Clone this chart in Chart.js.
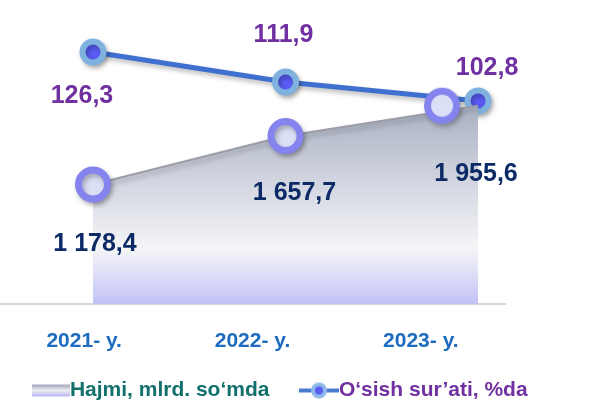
<!DOCTYPE html>
<html>
<head>
<meta charset="utf-8">
<script src="https://cdn.jsdelivr.net/npm/chart.js@4.4.0/dist/chart.umd.min.js"></script>
<style>
html,body{margin:0;padding:0;background:#fff}
#wrap{width:593px;height:411px}
</style>
</head>
<body>
<div id="wrap"><canvas id="myChart"></canvas></div>
<script>

var years = ["2021- y.", "2022- y.", "2023- y."];
var hajmi = [1178.4, 1657.7, 1955.6];	// mlrd. so'm
var osish = [126.3, 111.9, 102.8];		// %
var seriesNames = ["Hajmi, mlrd. so‘mda", "O‘sish sur’ati, %da"];

var FONT = "'Liberation Sans', Arial, sans-serif";

// 1178.4 -> "1 178,4"
function fmt(v){
	var s = v.toFixed(1).split(".");
	return s[0].replace(/\B(?=(\d{3})+(?!\d))/g, " ") + "," + s[1];
}

function mk(w, h, draw){
	var c = document.createElement("canvas");
	c.width = w; c.height = h;
	draw(c.getContext("2d"));
	return c;
}

// ring marker of the area series, drawn shifted sideways (as in the slide)
function ring(shift){
	var half = 19 + Math.abs(shift);
	return mk(half*2, 38, function(ctx){
		ctx.beginPath();
		ctx.arc(half + shift, 19, 14.5, 0, Math.PI*2);
		ctx.fillStyle = "#dbe0f7";
		ctx.fill();
		ctx.lineWidth = 7;
		ctx.strokeStyle = "#8584ee";
		ctx.stroke();
	});
}
var areaShift = [0, 0, -36];
var areaMarks = areaShift.map(function(s){ return s ? ring(s) : "circle"; });

// legend keys
var keyHajmi = mk(73, 16, function(ctx){
	var g = ctx.createLinearGradient(0, 2, 0, 14);
	g.addColorStop(0, "#9ea4b8");
	g.addColorStop(0.5, "#f0f0f4");
	g.addColorStop(1, "#b4b4f2");
	ctx.fillStyle = g;
	ctx.fillRect(35, 2, 38, 12);
});
var keyOsish = mk(73, 18, function(ctx){
	ctx.strokeStyle = "#4a7bd0"; ctx.lineWidth = 4;
	ctx.beginPath(); ctx.moveTo(33, 9); ctx.lineTo(73, 9); ctx.stroke();
	ctx.beginPath(); ctx.arc(53, 9, 8, 0, Math.PI*2); ctx.fillStyle = "#8db8e8"; ctx.fill();
	ctx.beginPath(); ctx.arc(53, 9, 4, 0, Math.PI*2); ctx.fillStyle = "#5b5bf5"; ctx.fill();
});

var shadowPlugin = {
	id: "shadow",
	beforeDatasetDraw: function(chart){
		var c = chart.ctx;
		c.save();
		c.shadowColor = "rgba(0,0,0,0.28)";
		c.shadowBlur = 5;
		c.shadowOffsetX = 2;
		c.shadowOffsetY = 3;
	},
	afterDatasetDraw: function(chart){ chart.ctx.restore(); }
};

var labelPlugin = {
	id: "valueLabels",
	afterDatasetsDraw: function(chart, args, opts){
		var ctx = chart.ctx;
		chart.data.datasets.forEach(function(ds, di){
			var st = opts.styles[di];
			var meta = chart.getDatasetMeta(di);
			ctx.save();
			ctx.font = "bold 25px " + FONT;
			ctx.fillStyle = st.color;
			ctx.textAlign = "center";
			ctx.textBaseline = "middle";
			meta.data.forEach(function(pt, i){
				ctx.fillText(fmt(ds.data[i].y), pt.x + st.offsets[i][0], pt.y + st.offsets[i][1]);
			});
			ctx.restore();
		});
	}
};

window.onload = function(){

	new Chart("myChart", {
		type: "line",
		data: {
			labels: years,
			datasets: [
			{
				label: seriesNames[0],
				data: hajmi.map(function(v,i){ return {x:i, y:v}; }),
				xAxisID: "xd", yAxisID: "y",
				order: 1,
				fill: "origin",
				backgroundColor: function(c){
					var a = c.chart.chartArea;
					if( !a ) return "#e0e0ee";
					var top = c.chart.scales.y.getPixelForValue(Math.max.apply(null, hajmi));
					var g = c.chart.ctx.createLinearGradient(0, top, 0, a.bottom);
					g.addColorStop(0, "#a9b0c2");
					g.addColorStop(0.45, "#d9dce5");
					g.addColorStop(0.72, "#f5f5f7");
					g.addColorStop(1, "#c2c2f7");
					return g;
				},
				borderColor: "#9c9ca8",
				borderWidth: 2,
				pointStyle: areaMarks,
				pointRadius: 14.5,
				pointBorderWidth: 7,
				pointBackgroundColor: "#dbe0f7",
				pointBorderColor: "#8584ee"
			},
			{
				label: seriesNames[1],
				data: osish.map(function(v,i){ return {x:i, y:v}; }),
				xAxisID: "xd", yAxisID: "y2",
				order: 2,
				fill: false,
				borderColor: "#3f6fcf",
				borderWidth: 5,
				pointRadius: 10.5,
				pointBorderWidth: 6,
				pointBackgroundColor: "#5a5cf7",
				pointBorderColor: "#80b2e0"
			}
		]},
		options: {
			responsive: true,
			maintainAspectRatio: false,
			animation: false,
			layout: { autoPadding: false, padding: { top: 10, right: 58, left: 0, bottom: 0 } },
			scales: {
				x: {
					type: "category",
					offset: true,
					grid: { display: false },
					border: { display: true, color: "#d6d6d6", width: 2 },
					ticks: { color: "#1d6cc0", padding: 17, font: { family: FONT, size: 21, weight: "bold" } },
					afterFit: function(s){ s.height = 69; s.paddingLeft = 0; s.paddingRight = 0; }
				},
				xd: { type: "linear", display: false, min: -0.483, max: 2.14 },
				y: { display: false, min: 0, max: 2900 },
				y2: {
					position: "right",
					min: 5.15, max: 146.5,
					grid: { display: false },
					border: { display: false },
					ticks: { display: false },
					afterFit: function(s){ s.width = 30; s.paddingTop = 0; s.paddingBottom = 0; }
				}
			},
			plugins: {
				tooltip: { enabled: false },
				legend: {
					position: "bottom",
					labels: {
						usePointStyle: true,
						pointStyleWidth: 52,
						boxWidth: 52,
						boxHeight: 16,
						padding: 7,
						font: { family: FONT, size: 21, weight: "bold" },
						generateLabels: function(chart){
							var items = Chart.defaults.plugins.legend.labels.generateLabels(chart);
							var keys = [keyHajmi, keyOsish], cols = ["#11706c", "#7030a0"];
							items.forEach(function(it, i){ it.pointStyle = keys[i]; it.fontColor = cols[i]; });
							return items;
						}
					}
				},
				valueLabels: {
					styles: [
						{ color: "#0c2a66", offsets: [[2,60],[9,57],[-2,68]] },
						{ color: "#7030a0", offsets: [[-11,44],[-2,-47],[9,-33]] }
					]
				}
			}
		},
		plugins: [shadowPlugin, labelPlugin]
	});

};
</script>
</body>
</html>
